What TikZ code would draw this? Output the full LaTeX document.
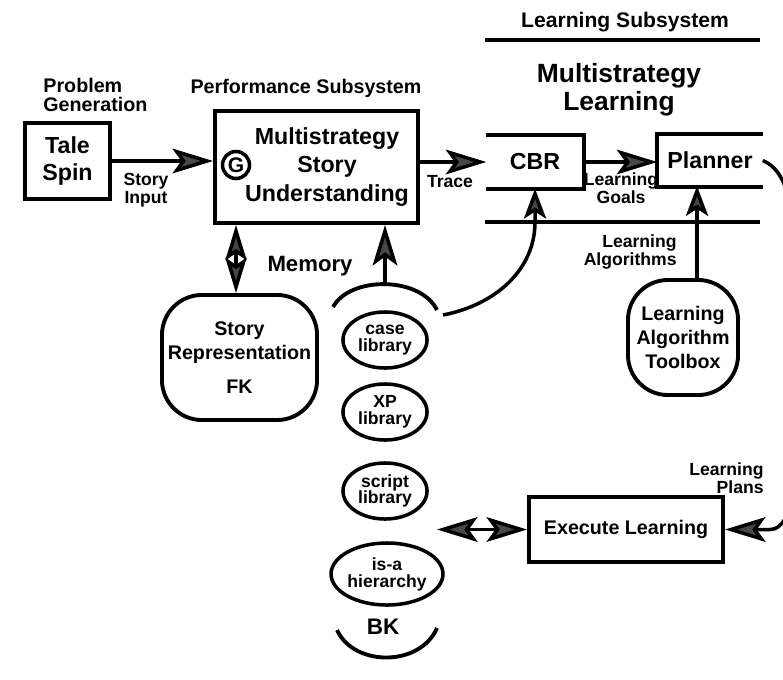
\documentclass[tikz,border=0pt]{standalone}
\usepackage{fontspec}
\setmainfont{Liberation Sans}
\usetikzlibrary{shapes,arrows.meta}

\tikzset{
  box/.style={draw, line width=1.1pt, inner sep=0pt},
  rbox/.style={draw, line width=1.1pt, rounded corners=0.4cm, align=center, inner sep=0pt},
  lib/.style={draw, ellipse, line width=1pt, inner sep=0pt, minimum width=0.84cm,
    minimum height=0.56cm, align=center, font=\fontsize{5}{4.8}\selectfont\bfseries},
  big/.style={font=\fontsize{6.6}{7.8}\selectfont\bfseries, align=center},
  mid/.style={font=\fontsize{5.6}{6.8}\selectfont\bfseries, align=center},
  lbl/.style={font=\fontsize{5}{5}\selectfont\bfseries, align=center},
  conn/.style={line width=1pt},
  tipbig/.tip={Stealth[length=11.5pt, width=7pt, inset=2.5pt, fill=black!72]},
  tipup/.tip={Stealth[length=8.5pt, width=6.3pt, inset=2pt, fill=black!72]},
  tipfk/.tip={Stealth[length=10pt, width=6pt, inset=2pt, fill=black!72]},
  arr/.style={conn, -tipbig},
  uparr/.style={conn, -tipup},
}

\begin{document}
\begin{tikzpicture}[x=0.01cm, y=-0.01cm]
\useasboundingbox (0,0) rectangle (783,679);
\clip (0,0) rectangle (783,679);

\node[font=\fontsize{5.6}{5.4}\selectfont\bfseries, align=left, anchor=west] (probgen) at (31,95) {Problem\\Generation};
\node[mid] (perfsub) at (306,88) {Performance Subsystem};
\node[font=\fontsize{6}{7}\selectfont\bfseries] (learnsub) at (625,22) {Learning Subsystem};
\draw[conn] (485,40) -- (760,40);
\node[font=\fontsize{7.5}{5.8}\selectfont\bfseries, align=center] (mslearn) at (619,90) {Multistrategy\\Learning};

\node[box, big, minimum width=0.85cm, minimum height=0.76cm] (talespin) at (67.5,161) {Tale\\Spin};
\node[box, minimum width=2.03cm, minimum height=1.12cm] (perf) at (316.5,167) {};
\node[big, font=\fontsize{6.6}{8}\selectfont\bfseries] (perftext) at (327,167) {Multistrategy\\Story\\Understanding};
\node[draw, circle, line width=1pt, minimum size=0.27cm, inner sep=0pt, font=\fontsize{6}{6}\selectfont\bfseries] (goal) at (236,165) {G};
\draw[arr] (talespin.east) -- (talespin.east -| perf.west);
\node[lbl] (storyin) at (146,190) {Story\\Input};

\node[big, minimum width=0.96cm, minimum height=0.52cm, inner sep=0pt] (cbr) at (535,162) {CBR};
\draw[box] (cbr.north west) -- (cbr.north east) -- (cbr.south east) -- (cbr.south west);
\draw[arr] (perf.east |- cbr.west) -- (cbr.west);
\node[lbl] (trace) at (450,182) {Trace};

\node[big, minimum width=1.04cm, minimum height=0.51cm, inner sep=0pt] (planner) at (710,160.5) {Planner};
\draw[box] (planner.north east) -- (planner.north west) -- (planner.south west) -- (planner.south east);
\draw[arr] (cbr.east) -- (cbr.east -| planner.west);
\node[lbl] (goals) at (621,188) {Learning\\Goals};

\coordinate (railL) at (485,222);
\coordinate (railR) at (760,222);
\draw[box] (railL) -- (railR);

\node[rbox, mid, minimum width=1.1cm, minimum height=1.15cm] (toolbox) at (683,337.5) {Learning\\Algorithm\\Toolbox};
\coordinate (algtip) at (697,186);
\draw[uparr] (toolbox.north -| algtip) -- (algtip);
\node[lbl, align=right, anchor=east] (algs) at (689,252) {Learning\\Algorithms};

\node[rbox, mid, minimum width=1.55cm, minimum height=1.25cm] (fk) at (239.5,357.5) {Story\\Representation\\[1mm]FK};
\draw[conn, tipfk-tipfk] (fk.north -| goal) -- (goal |- perf.south);

\node[font=\fontsize{6.3}{7}\selectfont\bfseries] (memory) at (310,266) {Memory};
\coordinate (memtop) at (385,284);
\draw[line width=1.1pt] (333,307) .. controls (350,276) and (420,276) .. (437,310);
\draw[line width=1.1pt] (337,630) .. controls (354,667) and (420,667) .. (437,628);
\draw[arr] (memtop) -- (memtop |- perf.south);

\node[lib] (caselib) at (385,340) {case\\library};
\node[lib] (xplib) at (385,412) {XP\\library};
\node[lib] (scriptlib) at (385,491) {script\\library};
\node[lib, minimum width=0.9cm, minimum height=0.62cm] (isa) at (387,574) {is-a\\hierarchy};
\node[font=\fontsize{6.4}{7}\selectfont\bfseries] (bk) at (383,627) {BK};

\coordinate (caseout) at (443,315);
\draw[uparr] (caseout) .. controls (495,305) and (535,270) .. (535,222) -- (cbr.south);

\node[box, mid, minimum width=1.94cm, minimum height=0.65cm] (exec) at (626,529.5) {Execute Learning};
\coordinate (kbport) at (437,529.5);
\draw[conn, tipbig-tipbig] (kbport) -- (exec.west);

\coordinate (planbend) at (770,529.5);
\draw[arr] (planner.east) .. controls (785,170) and (800,200) .. (800,340)
  .. controls (800,470) and (795,529.5) .. (planbend) -- (exec.east);
\node[lbl, align=right, anchor=east] (plans) at (776,478) {Learning\\Plans};
\end{tikzpicture}
\end{document}
